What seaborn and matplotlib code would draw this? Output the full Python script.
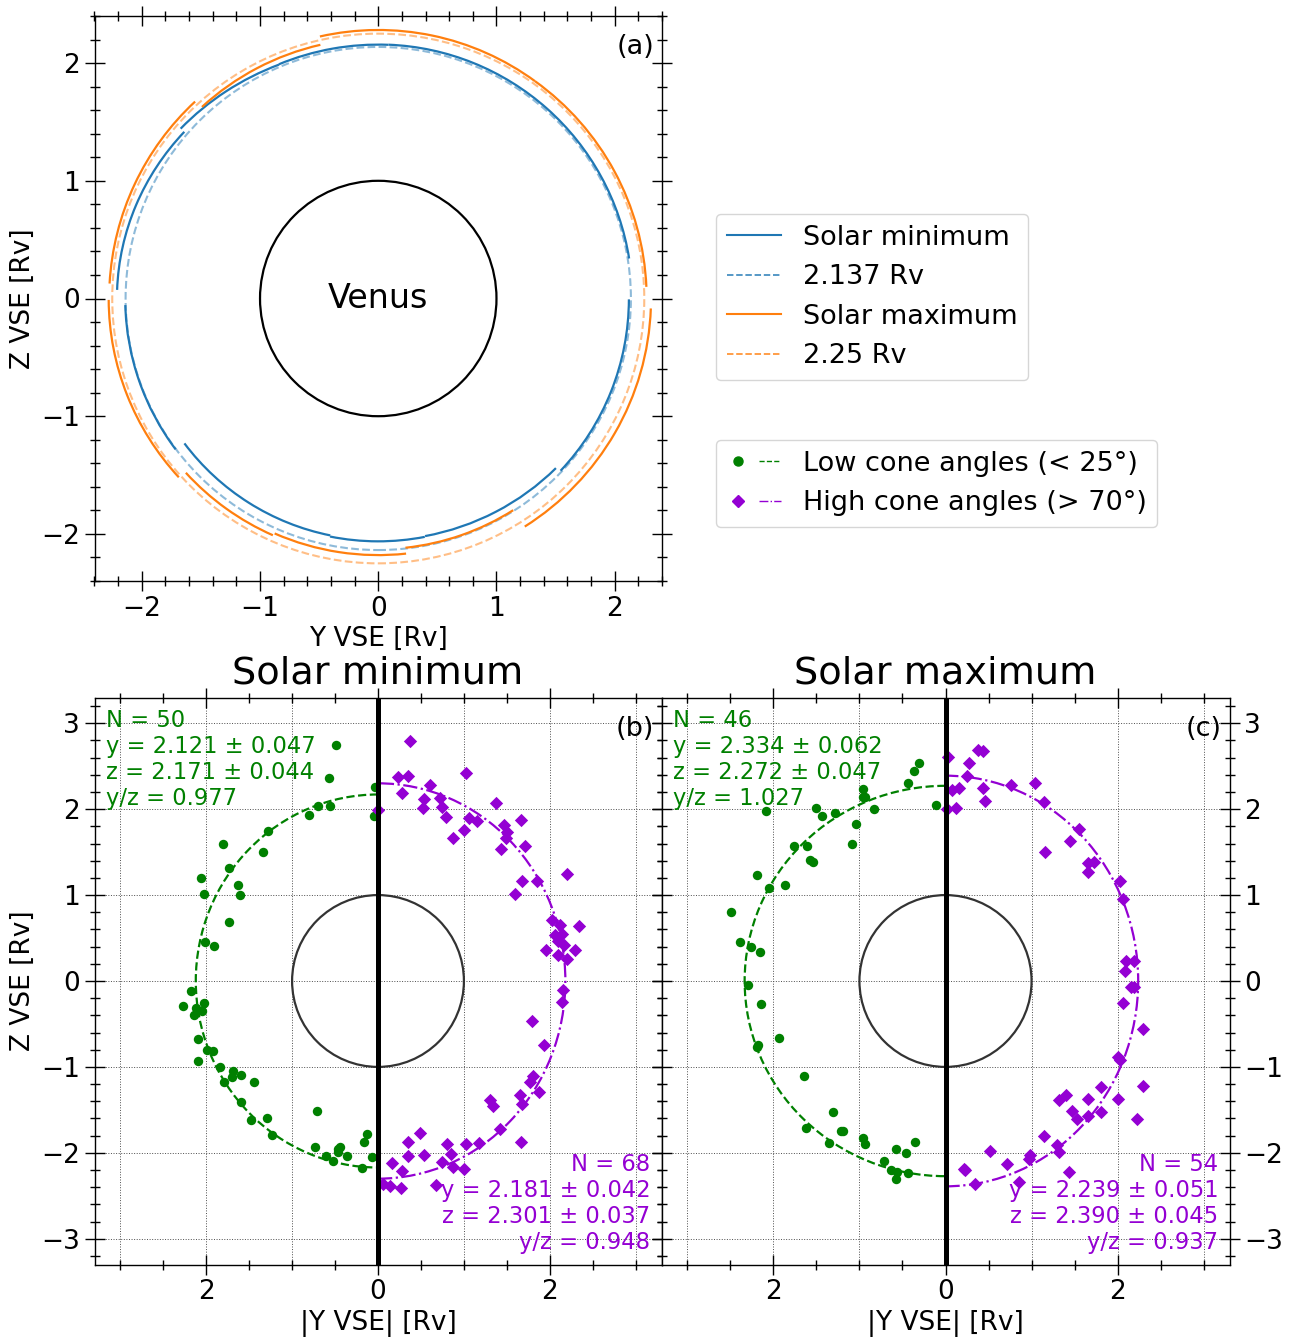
import numpy as np
import matplotlib
matplotlib.use("Agg")
import matplotlib.pyplot as plt
import seaborn as sns
from matplotlib.patches import Arc, Circle
from matplotlib.lines import Line2D
from matplotlib.legend_handler import HandlerTuple
from matplotlib.ticker import MultipleLocator, FuncFormatter

# ---------------- data ----------------
# Panel (a): sector boundary arcs (angle in deg, radius in Rv at sector start/end)
min_theta1 = [9.1, 87.7, 112.9, 139.2, 181.5, 216.9, 258.6, 281.1, 316.5]
min_theta2 = [87.7, 112.9, 139.2, 178.1, 216.8, 258.6, 281.0, 316.2, 359.8]
min_r1 = [2.149, 2.157, 2.157, 2.167, 2.140, 2.050, 2.053, 2.057, 2.126]
min_r2 = [2.158, 2.160, 2.208, 2.210, 2.140, 2.053, 2.073, 2.082, 2.120]

max_theta1 = [2.5, 54.3, 102.8, 132.8, 180.3, 222.3, 246.3, 276.2, 302.6]
max_theta2 = [54.3, 102.5, 132.5, 176.8, 222.0, 246.1, 276.2, 302.4, 357.9]
max_r1 = [2.270, 2.273, 2.210, 2.280, 2.280, 2.200, 2.180, 2.130, 2.300]
max_r2 = [2.273, 2.280, 2.207, 2.276, 2.270, 2.200, 2.180, 2.130, 2.307]

ref_r_min = 2.137
ref_r_max = 2.25

# Panel (b): solar minimum, |Y| and Z
b_low_y = [0.49, 0.57, 0.04, 0.70, 0.56, 0.80, 0.05, 1.28, 1.80, 1.34, 1.74, 2.06, 1.63,
           2.02, 1.61, 1.73, 2.01, 1.91, 2.18, 2.27, 2.12, 2.03, 2.14, 2.09, 2.10, 1.99,
           1.92, 1.84, 1.69, 1.79, 1.70, 1.59, 1.44, 1.59, 1.48, 1.29, 1.23, 0.71, 0.73,
           0.61, 0.52, 0.46, 0.44, 0.36, 0.16, 0.13, 0.07, 0.19, 0.46, 2.05]
b_low_z = [2.75, 2.36, 2.26, 2.04, 2.04, 1.93, 1.92, 1.75, 1.59, 1.50, 1.32, 1.20, 1.12,
           1.01, 1.00, 0.69, 0.45, 0.41, -0.12, -0.29, -0.31, -0.26, -0.40, -0.68, -0.93, -0.80,
           -0.82, -1.00, -1.05, -1.17, -1.12, -1.09, -1.17, -1.41, -1.62, -1.59, -1.79, -1.51, -1.93,
           -2.04, -2.09, -1.96, -1.93, -2.04, -1.87, -1.78, -2.05, -2.18, -1.99, -0.35]
b_high_y = [0.37, 0.23, 0.35, 0.28, 0.60, 1.02, 0.54, 0.52, 0.72, 0.75, 0.79, 0.00, 0.87,
            1.00, 1.06, 1.15, 1.37, 1.47, 1.50, 1.49, 1.43, 1.67, 1.71, 2.20, 1.68, 1.85,
            1.60, 2.02, 2.12, 2.34, 2.06, 2.14, 2.10, 2.16, 1.96, 2.10, 2.29, 2.20, 2.15,
            2.14, 1.79, 1.93, 1.80, 1.77, 1.87, 1.30, 1.34, 1.65, 1.68, 1.42, 1.66, 1.17,
            1.02, 0.80, 0.85, 0.75, 0.87, 1.00, 0.49, 0.35, 0.35, 0.54, 0.16, 0.28, 0.06,
            0.14, 0.27, 0.68]
b_high_z = [2.79, 2.37, 2.39, 2.19, 2.28, 2.42, 2.12, 2.01, 2.13, 2.02, 1.91, 1.99, 1.66,
            1.76, 1.90, 1.86, 2.07, 1.82, 1.73, 1.67, 1.54, 1.87, 1.57, 1.24, 1.16, 1.16,
            1.01, 0.71, 0.65, 0.64, 0.53, 0.55, 0.46, 0.42, 0.36, 0.30, 0.36, 0.26, -0.10,
            -0.25, -0.46, -0.75, -1.10, -1.17, -1.29, -1.38, -1.46, -1.33, -1.43, -1.72, -1.87, -1.89,
            -1.90, -1.90, -2.01, -2.11, -2.16, -2.19, -1.77, -1.87, -2.04, -2.02, -2.12, -2.21, -2.36,
            -2.39, -2.41, -2.37]

# Panel (c): solar maximum, |Y| and Z
c_low_y = [0.31, 0.37, 0.43, 0.96, 0.96, 0.93, 1.04, 1.09, 0.83, 0.11, 1.28, 1.44, 1.50,
           2.09, 1.76, 1.61, 1.58, 1.54, 2.19, 2.05, 1.87, 2.49, 2.39, 2.26, 2.15, 2.30,
           2.14, 1.94, 2.18, 2.19, 1.65, 1.62, 1.31, 1.22, 1.19, 1.35, 0.96, 0.94, 0.72,
           0.63, 0.56, 0.58, 0.43, 0.57, 0.46, 0.36]
c_low_z = [2.54, 2.45, 2.30, 2.23, 2.14, 2.14, 1.83, 1.60, 2.00, 2.05, 1.95, 1.92, 2.01,
           1.98, 1.57, 1.57, 1.41, 1.38, 1.23, 1.08, 1.12, 0.80, 0.45, 0.39, 0.34, -0.05,
           -0.27, -0.66, -0.75, -0.77, -1.10, -1.71, -1.53, -1.75, -1.75, -1.89, -1.83, -1.90, -2.09,
           -2.20, -2.22, -2.30, -2.24, -1.96, -2.00, -1.87]
c_high_y = [0.03, 0.38, 0.43, 0.27, 0.25, 0.08, 0.16, 0.43, 0.46, 0.02, 0.12, 0.76, 1.04,
            1.15, 1.55, 1.45, 1.16, 1.66, 1.73, 1.65, 2.03, 2.06, 2.10, 2.19, 2.09, 2.15,
            2.19, 2.06, 2.30, 2.00, 2.03, 2.30, 2.23, 2.00, 1.81, 1.81, 1.66, 1.65, 1.53,
            1.47, 1.40, 1.32, 1.29, 1.32, 1.44, 1.14, 0.98, 0.97, 0.52, 0.72, 0.85, 0.23,
            0.34, 0.21]
c_high_z = [2.61, 2.69, 2.68, 2.54, 2.39, 2.22, 2.25, 2.25, 2.09, 2.00, 2.01, 2.28, 2.30,
            2.08, 1.77, 1.63, 1.50, 1.37, 1.38, 1.27, 1.16, 0.95, 0.23, 0.23, 0.12, -0.07,
            -0.07, -0.26, -0.56, -0.89, -0.92, -1.22, -1.61, -1.37, -1.23, -1.53, -1.37, -1.57, -1.61,
            -1.51, -1.33, -1.38, -1.91, -1.99, -2.22, -1.81, -2.02, -2.07, -1.98, -2.13, -2.34, -2.20,
            -2.36, -2.19]

# Fitted ellipse parameters: N, y, y_err, z, z_err
b_low_fit = [50, 2.121, 0.047, 2.171, 0.044]
b_high_fit = [68, 2.181, 0.042, 2.301, 0.037]
c_low_fit = [46, 2.334, 0.062, 2.272, 0.047]
c_high_fit = [54, 2.239, 0.051, 2.390, 0.045]

cone_labels = ['Low cone angles (< 25°)', 'High cone angles (> 70°)']
panel_titles = ['Solar minimum', 'Solar maximum']

# ---------------- style ----------------
LOW_C = 'green'
HIGH_C = 'darkviolet'
MIN_C = '#1f77b4'
MAX_C = '#ff7f0e'
TICK_FS = 19
LABEL_FS = 19
ANN_FS = 16.3
TAG_FS = 19.5

W, H = 1298, 1338
fig = plt.figure(figsize=(W / 100, H / 100), dpi=100)


def rect(l, t, r, b):
    return [l / W, 1 - b / H, (r - l) / W, (b - t) / H]


axa = fig.add_axes(rect(94.5, 16, 662, 581))
axb = fig.add_axes(rect(94.5, 697.5, 661.5, 1264.5))
axc = fig.add_axes(rect(661.5, 697.5, 1229.5, 1264.5))

for ax in (axa, axb, axc):
    ax.tick_params(which='both', direction='inout', top=True, right=True,
                   labelsize=TICK_FS, width=1, colors='k')
    ax.tick_params(which='major', length=14)
    ax.tick_params(which='minor', length=7.5)
    for s in ax.spines.values():
        s.set_linewidth(1.0)


def sector_axes(t1, t2, r1, r2):
    """semi-axes (y, z) of the centred ellipse through the two sector ends"""
    a1, a2 = np.radians(t1), np.radians(t2)
    M = np.array([[np.cos(a1) ** 2, np.sin(a1) ** 2],
                  [np.cos(a2) ** 2, np.sin(a2) ** 2]])
    rhs = np.array([1 / r1 ** 2, 1 / r2 ** 2])
    rm = 0.5 * (r1 + r2)
    if abs(np.linalg.det(M)) < 0.05:
        return rm, rm
    A, B = np.linalg.solve(M, rhs)
    if A <= 0 or B <= 0:
        return rm, rm
    return 1 / np.sqrt(A), 1 / np.sqrt(B)


# ---------------- panel (a) ----------------
axa.add_patch(Circle((0, 0), ref_r_min, fill=False, ls='--', color=MIN_C, alpha=0.5, lw=1.5))
axa.add_patch(Circle((0, 0), ref_r_max, fill=False, ls='--', color=MAX_C, alpha=0.5, lw=1.5))
for t1, t2, r1, r2 in zip(min_theta1, min_theta2, min_r1, min_r2):
    a, b = sector_axes(t1, t2, r1, r2)
    axa.add_patch(Arc((0, 0), 2 * a, 2 * b, theta1=t1, theta2=t2, color=MIN_C, lw=1.6))
for t1, t2, r1, r2 in zip(max_theta1, max_theta2, max_r1, max_r2):
    a, b = sector_axes(t1, t2, r1, r2)
    axa.add_patch(Arc((0, 0), 2 * a, 2 * b, theta1=t1, theta2=t2, color=MAX_C, lw=1.6))
axa.add_patch(Circle((0, 0), 1.0, fill=False, color='k', lw=1.6))
axa.text(0, 0, 'Venus', ha='center', va='center', fontsize=24)
axa.text(0.987, 0.968, '(a)', transform=axa.transAxes, ha='right', va='top', fontsize=TAG_FS)
axa.set_xlim(-2.4, 2.4)
axa.set_ylim(-2.4, 2.4)
for axis in (axa.xaxis, axa.yaxis):
    axis.set_major_locator(MultipleLocator(1))
    axis.set_minor_locator(MultipleLocator(0.2))
axa.set_xlabel('Y VSE [Rv]', fontsize=LABEL_FS, labelpad=3.5)
axa.set_ylabel('Z VSE [Rv]', fontsize=LABEL_FS)

# ---------------- panels (b), (c) ----------------
abs_fmt = FuncFormatter(lambda v, p: f"{abs(v):g}")


def cone_panel(ax, ly, lz, hy, hz, lfit, hfit, title, tag):
    for v in range(-3, 4):
        ax.axvline(v, ls=':', color='0.3', lw=0.7, zorder=0)
        ax.axhline(v, ls=':', color='0.3', lw=0.7, zorder=0)
    ax.add_patch(Circle((0, 0), 1.0, fill=False, color='0.2', lw=1.6, zorder=1))
    sns.scatterplot(x=-np.asarray(ly), y=lz, ax=ax, color=LOW_C, marker='o', s=46,
                    linewidth=0, zorder=3, legend=False)
    sns.scatterplot(x=hy, y=hz, ax=ax, color=HIGH_C, marker='D', s=46,
                    linewidth=0, zorder=3, legend=False)
    ax.add_patch(Arc((0, 0), 2 * lfit[1], 2 * lfit[3], theta1=90, theta2=270,
                     color=LOW_C, ls='--', lw=1.6, zorder=2))
    ax.add_patch(Arc((0, 0), 2 * hfit[1], 2 * hfit[3], theta1=-90, theta2=90,
                     color=HIGH_C, ls='-.', lw=1.6, zorder=2))
    ax.axvline(0, color='k', lw=3.6, zorder=4)
    ltxt = (f"N = {lfit[0]}\ny = {lfit[1]:.3f} ± {lfit[2]:.3f}\n"
            f"z = {lfit[3]:.3f} ± {lfit[4]:.3f}\ny/z = {lfit[1] / lfit[3]:.3f}")
    htxt = (f"N = {hfit[0]}\ny = {hfit[1]:.3f} ± {hfit[2]:.3f}\n"
            f"z = {hfit[3]:.3f} ± {hfit[4]:.3f}\ny/z = {hfit[1] / hfit[3]:.3f}")
    ax.text(0.02, 0.98, ltxt, transform=ax.transAxes, ha='left', va='top',
            color=LOW_C, fontsize=ANN_FS, linespacing=1.17, zorder=5)
    ax.text(0.98, 0.019, htxt, transform=ax.transAxes, ha='right', va='bottom',
            multialignment='right', color=HIGH_C, fontsize=ANN_FS, linespacing=1.17,
            zorder=5)
    ax.text(0.987, 0.968, tag, transform=ax.transAxes, ha='right', va='top', fontsize=TAG_FS)
    ax.set_xlim(-3.3, 3.3)
    ax.set_ylim(-3.3, 3.3)
    ax.xaxis.set_major_locator(MultipleLocator(2))
    ax.xaxis.set_minor_locator(MultipleLocator(0.5))
    ax.yaxis.set_major_locator(MultipleLocator(1))
    ax.yaxis.set_minor_locator(MultipleLocator(0.2))
    ax.xaxis.set_major_formatter(abs_fmt)
    ax.set_xlabel('|Y VSE| [Rv]', fontsize=LABEL_FS, labelpad=3.5)
    ax.set_title(title, fontsize=27.5, pad=10)


cone_panel(axb, b_low_y, b_low_z, b_high_y, b_high_z, b_low_fit, b_high_fit, panel_titles[0], '(b)')
cone_panel(axc, c_low_y, c_low_z, c_high_y, c_high_z, c_low_fit, c_high_fit, panel_titles[1], '(c)')
axb.set_ylabel('Z VSE [Rv]', fontsize=LABEL_FS)
axc.set_ylabel('')
axc.tick_params(which='both', labelleft=False, labelright=True)

# ---------------- legends ----------------
h1 = [Line2D([], [], color=MIN_C, lw=1.5),
      Line2D([], [], color=MIN_C, ls='--', lw=1.25, alpha=0.85),
      Line2D([], [], color=MAX_C, lw=1.5),
      Line2D([], [], color=MAX_C, ls='--', lw=1.25, alpha=0.85)]
l1 = ['Solar minimum', f'{ref_r_min} Rv', 'Solar maximum', f'{ref_r_max} Rv']
fig.legend(h1, l1, loc='upper left', bbox_to_anchor=(716 / W, 1 - 214 / H),
           borderaxespad=0, fontsize=19.5)

h2 = [(Line2D([], [], color=LOW_C, marker='o', ls='none', ms=6.5),
       Line2D([], [], color=LOW_C, ls='--', lw=1)),
      (Line2D([], [], color=HIGH_C, marker='D', ls='none', ms=6),
       Line2D([], [], color=HIGH_C, ls='-.', lw=1))]
fig.legend(h2, cone_labels, loc='upper left', bbox_to_anchor=(716 / W, 1 - 440 / H),
           borderaxespad=0, fontsize=19.5, handler_map={tuple: HandlerTuple(ndivide=None)})

fig.savefig('out.png', dpi=100)
